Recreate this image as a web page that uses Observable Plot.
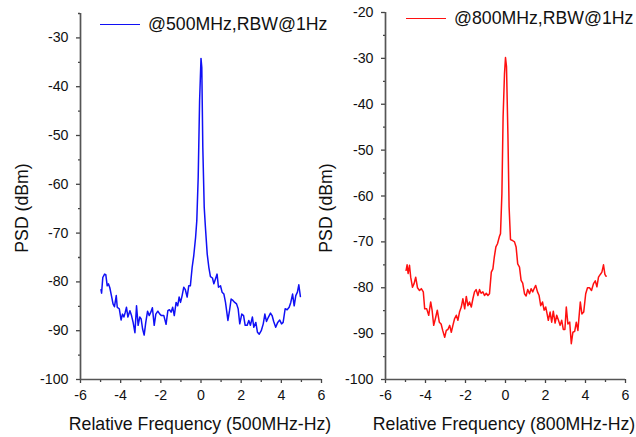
<!DOCTYPE html>
<html><head><meta charset="utf-8">
<script src="https://cdn.jsdelivr.net/npm/d3@7"></script>
<script src="https://cdn.jsdelivr.net/npm/@observablehq/plot@0.6"></script>
<style>
body{margin:0;background:#fff;}
#wrap{position:relative;width:636px;height:437px;font-family:"Liberation Sans",Arial,sans-serif;overflow:hidden;}
#wrap svg{position:absolute;top:0;overflow:visible;}
.lbl{position:absolute;font-size:17.7px;color:#111;white-space:nowrap;}
.leg{position:absolute;font-size:17.7px;color:#111;white-space:nowrap;display:flex;align-items:center;}
.leg span.ln{display:inline-block;width:40px;height:0;border-top:1.5px solid;margin-right:8px;}
</style></head>
<body><div id="wrap"></div>
<script>
// Left panel: @500MHz
const freqA = [-4.98,-4.95,-4.89,-4.80,-4.74,-4.67,-4.61,-4.54,-4.46,-4.38,-4.31,-4.22,-4.17,-4.07,-3.98,-3.91,-3.84,-3.77,-3.71,-3.64,-3.54,-3.46,-3.38,-3.29,-3.21,-3.13,-3.05,-2.98,-2.91,-2.83,-2.75,-2.66,-2.58,-2.50,-2.42,-2.33,-2.25,-2.15,-2.05,-1.97,-1.85,-1.74,-1.65,-1.57,-1.49,-1.41,-1.33,-1.24,-1.16,-1.09,-1.02,-0.94,-0.86,-0.78,-0.69,-0.61,-0.53,-0.44,-0.36,-0.27,-0.21,-0.14,-0.07,0.0,0.04,0.09,0.16,0.22,0.31,0.39,0.47,0.57,0.64,0.72,0.80,0.87,0.97,1.05,1.14,1.22,1.34,1.42,1.50,1.59,1.68,1.77,1.85,1.93,2.03,2.12,2.20,2.30,2.38,2.46,2.56,2.63,2.73,2.81,2.90,3.00,3.10,3.18,3.26,3.36,3.46,3.54,3.62,3.72,3.82,3.92,4.01,4.09,4.19,4.29,4.39,4.47,4.56,4.64,4.72,4.80,4.87,4.95];
const psdA = [-81.6,-82.3,-79.1,-78.4,-78.5,-80.8,-80.4,-81.2,-82.8,-84.5,-85.1,-82.8,-85.2,-85.5,-87.8,-86.6,-87.2,-86.2,-85.2,-87.2,-85.9,-86.9,-88.3,-90.4,-84.9,-88.9,-87.2,-87.6,-89.6,-90.9,-88.3,-86.0,-86.9,-86.2,-85.3,-88.9,-86.6,-86.0,-86.6,-86.9,-86.9,-88.7,-85.9,-85.7,-86.2,-85.2,-86.9,-84.2,-84.9,-83.1,-84.2,-82.8,-81.1,-81.6,-83.1,-80.8,-80.8,-77.0,-74.6,-70.9,-67.5,-58.6,-42.9,-34.2,-36.1,-52.4,-64.7,-68.8,-74.3,-77.0,-78.9,-79.2,-80.4,-79.4,-78.4,-81.1,-80.8,-82.1,-82.5,-84.2,-87.9,-85.9,-83.5,-83.8,-84.2,-84.5,-85.5,-88.6,-86.6,-86.9,-88.9,-88.9,-87.9,-88.9,-87.2,-89.3,-88.3,-90.3,-90.7,-90.0,-88.6,-86.6,-88.1,-87.2,-86.4,-86.9,-88.1,-89.3,-88.3,-87.8,-88.6,-88.3,-85.5,-85.7,-85.2,-84.2,-82.5,-84.9,-82.8,-82.1,-80.6,-83.0];
// Right panel: @800MHz
const freqB = [-4.97,-4.92,-4.87,-4.80,-4.74,-4.65,-4.57,-4.49,-4.40,-4.30,-4.21,-4.11,-4.04,-3.94,-3.84,-3.74,-3.67,-3.59,-3.51,-3.41,-3.31,-3.22,-3.14,-3.04,-2.96,-2.88,-2.79,-2.71,-2.63,-2.55,-2.46,-2.38,-2.30,-2.21,-2.13,-2.04,-1.96,-1.88,-1.80,-1.71,-1.63,-1.55,-1.47,-1.38,-1.30,-1.22,-1.13,-1.05,-0.96,-0.88,-0.80,-0.71,-0.63,-0.56,-0.48,-0.40,-0.31,-0.25,-0.18,-0.12,-0.05,0.0,0.05,0.12,0.18,0.25,0.35,0.45,0.53,0.61,0.70,0.78,0.86,0.95,1.03,1.11,1.20,1.28,1.36,1.45,1.51,1.60,1.68,1.76,1.85,1.93,2.01,2.08,2.14,2.23,2.31,2.39,2.48,2.56,2.64,2.73,2.81,2.89,2.97,3.04,3.12,3.21,3.29,3.37,3.46,3.54,3.62,3.74,3.82,3.91,4.01,4.10,4.20,4.30,4.40,4.49,4.57,4.65,4.74,4.82,4.90,4.97,5.03];
const psdB = [-76.2,-75.0,-76.9,-75.1,-77.7,-79.9,-79.1,-77.7,-80.0,-80.6,-80.2,-80.9,-84.6,-84.6,-86.0,-83.1,-84.9,-88.2,-86.8,-84.9,-87.5,-87.9,-89.3,-90.8,-89.3,-89.1,-88.2,-89.7,-88.2,-86.8,-86.0,-87.1,-85.3,-84.2,-82.4,-84.6,-81.9,-83.9,-83.1,-84.2,-82.4,-80.9,-80.4,-81.7,-80.4,-81.2,-80.9,-81.7,-81.2,-81.7,-81.3,-76.6,-75.9,-73.3,-71.1,-70.4,-68.9,-68.2,-59.5,-42.8,-33.3,-29.8,-31.8,-46.4,-62.4,-69.5,-69.7,-70.0,-71.1,-74.8,-75.5,-78.4,-79.0,-81.3,-81.8,-80.4,-81.3,-80.2,-80.9,-80.0,-79.5,-80.9,-81.7,-83.9,-83.1,-84.9,-84.2,-85.7,-87.1,-85.3,-87.5,-85.1,-87.7,-86.0,-87.0,-88.2,-87.1,-89.1,-89.1,-84.2,-87.9,-87.5,-92.2,-89.7,-89.5,-87.5,-89.3,-83.1,-85.7,-85.3,-81.3,-80.0,-80.0,-80.6,-79.1,-78.5,-79.8,-77.7,-77.1,-76.6,-75.0,-77.1,-77.5];

const xMajor = [-6,-4,-2,0,2,4,6];
const xMinor = [-5,-3,-1,1,3,5];
const yMajorA = [-100,-90,-80,-70,-60,-50,-40,-30];
const yMinorA = [-95,-85,-75,-65,-55,-45,-35,-25];
const yMajorB = [-100,-90,-80,-70,-60,-50,-40,-30,-20];
const yMinorB = [-95,-85,-75,-65,-55,-45,-35,-25];
const legendA = "@500MHz,RBW@1Hz";
const legendB = "@800MHz,RBW@1Hz";
const xLabelA = "Relative Frequency (500MHz-Hz)";
const xLabelB = "Relative Frequency (800MHz-Hz)";
const yLabel = "PSD (dBm)";

function panel(freq, psd, color, yDom, yMaj, yMin, opts) {
  const data = freq.map((f, i) => ({f, p: psd[i]}));
  return Plot.plot({
    width: opts.width, height: 437,
    marginLeft: opts.ml, marginRight: opts.mr, marginTop: opts.mt, marginBottom: 58,
    x: {domain: [-6, 6]},
    y: {domain: yDom},
    style: {fontFamily: '"Liberation Sans",Arial,sans-serif', fontSize: "14.2px", color: "#444", background: "transparent", overflow: "visible"},
    marks: [
      Plot.axisX({ticks: xMajor, tickSize: 4, tickPadding: 6, label: null, tickFormat: d => String(d), fill: "#111", strokeWidth: 1.3}),
      Plot.axisX({ticks: xMinor, tickSize: 3, label: null, tickFormat: () => null, strokeWidth: 1.3}),
      Plot.axisY({ticks: yMaj, tickSize: 4, tickPadding: 8, label: null, tickFormat: d => String(d), fill: "#111", strokeWidth: 1.3}),
      Plot.axisY({ticks: yMin, tickSize: 2, label: null, tickFormat: () => null, strokeWidth: 1.3}),
      Plot.ruleX([-6], {stroke: "#555", strokeWidth: 1.7}),
      Plot.ruleY([yDom[0]], {stroke: "#555", strokeWidth: 1.7}),
      Plot.line(data, {x: "f", y: "p", stroke: color, strokeWidth: 1.5})
    ]
  });
}

const wrap = document.getElementById("wrap");
const left = panel(freqA, psdA, "#1010f5", [-100, -25], yMajorA, yMinorA, {width: 330, ml: 80, mr: 9, mt: 13});
left.style.left = "0px";
wrap.appendChild(left);
const right = panel(freqB, psdB, "#ff1010", [-100, -20], yMajorB, yMinorB, {width: 306, ml: 55, mr: 11, mt: 12});
right.style.left = "330px";
wrap.appendChild(right);

function addDiv(cls, text, css) {
  const d = document.createElement("div");
  d.className = cls; d.textContent = text;
  Object.assign(d.style, css);
  wrap.appendChild(d);
  return d;
}
function addLegend(text, color, x, y) {
  const d = document.createElement("div");
  d.className = "leg";
  d.style.left = x + "px"; d.style.top = y + "px";
  const ln = document.createElement("span");
  ln.className = "ln"; ln.style.borderTopColor = color;
  d.appendChild(ln);
  d.appendChild(document.createTextNode(text));
  wrap.appendChild(d);
}
addLegend(legendA, "#1010f5", 100, 14);
addLegend(legendB, "#ff1010", 406, 8);

addDiv("lbl", xLabelA, {left: "200px", top: "414px", transform: "translateX(-50%)"});
addDiv("lbl", xLabelB, {left: "504px", top: "414px", transform: "translateX(-50%)"});
addDiv("lbl", yLabel, {left: "22px", top: "208px", transform: "translate(-50%,-50%) rotate(-90deg)"});
addDiv("lbl", yLabel, {left: "326px", top: "208px", transform: "translate(-50%,-50%) rotate(-90deg)"});
</script></body></html>
